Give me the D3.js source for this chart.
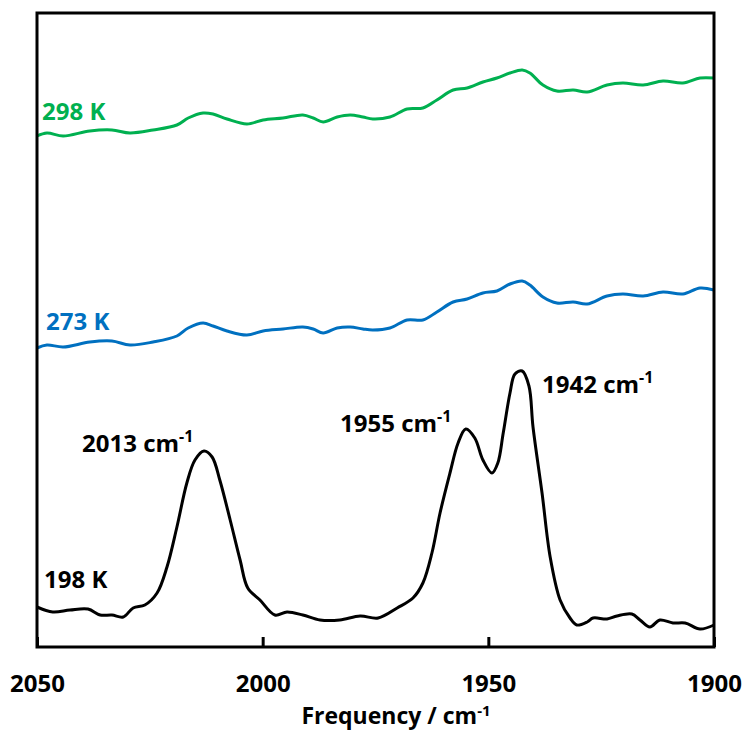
<!DOCTYPE html>
<html>
<head>
<meta charset="utf-8">
<script src="https://cdn.jsdelivr.net/npm/d3@7"></script>
<style>
  html, body { margin: 0; padding: 0; background: #fff; }
  svg { display: block; font-family: "Open Sans", "Liberation Sans", sans-serif; font-weight: 700; }
</style>
</head>
<body>
<svg id="chart" width="746" height="731"></svg>
<script>
// Wavenumber grid (cm-1) shared by the 273 K and 298 K spectra
const freqWarm = [2050, 2047.8, 2044.2, 2038.3, 2033.4, 2029.4, 2024.3, 2019.0, 2016.5, 2013.2,
  2011.0, 2007.9, 2003.5, 1999.9, 1995.5, 1991.1, 1988.8, 1986.6, 1983.5, 1980.6,
  1977.8, 1975.6, 1971.8, 1968.0, 1964.5, 1961.4, 1957.8, 1954.7, 1951.2, 1948.1,
  1945.2, 1942.5, 1940.8, 1937.9, 1934.8, 1931.2, 1928.1, 1923.7, 1920.2, 1915.7,
  1911.3, 1906.9, 1903.1, 1900];

// Offset absorbance, 298 K
const abs298 = [5.11, 5.14, 5.11, 5.16, 5.17, 5.14, 5.17, 5.22, 5.29, 5.34,
  5.33, 5.28, 5.23, 5.27, 5.29, 5.32, 5.29, 5.25, 5.30, 5.32,
  5.30, 5.28, 5.30, 5.38, 5.39, 5.47, 5.57, 5.59, 5.65, 5.69,
  5.74, 5.77, 5.74, 5.62, 5.56, 5.57, 5.55, 5.62, 5.64, 5.62,
  5.66, 5.64, 5.69, 5.69];

// Offset absorbance, 273 K
const abs273 = [2.99, 3.02, 3.00, 3.05, 3.06, 3.02, 3.05, 3.11, 3.19, 3.24,
  3.21, 3.16, 3.12, 3.16, 3.18, 3.20, 3.18, 3.14, 3.19, 3.20,
  3.18, 3.17, 3.19, 3.27, 3.27, 3.35, 3.45, 3.48, 3.54, 3.56,
  3.63, 3.66, 3.62, 3.50, 3.44, 3.45, 3.43, 3.51, 3.53, 3.51,
  3.55, 3.53, 3.59, 3.57];

// Wavenumber grid (cm-1) for the 198 K spectrum
const freqCold = [2050, 2046.5, 2042.7, 2038.7, 2036.0, 2033.4, 2030.9, 2028.7, 2026.1, 2023.4,
  2021.2, 2019.0, 2016.8, 2015.0, 2013, 2011.2, 2009.5, 2007.2, 2005.0, 2003.3,
  2000.6, 1997.3, 1994.6, 1991.1, 1987.3, 1982.9, 1978.4, 1974.4, 1970.2, 1966.7,
  1964.5, 1962.5, 1960.7, 1958.5, 1956.7, 1955, 1953.0, 1951.2, 1949.2, 1947.9,
  1946.7, 1945.2, 1944.1, 1942.5, 1941.0, 1940.1, 1938.1, 1936.3, 1934.1, 1931.9,
  1930.4, 1928.1, 1926.8, 1923.7, 1921.5, 1918.2, 1916.4, 1914.2, 1912.0, 1909.1,
  1906.4, 1903.1, 1900];

// Absorbance, 198 K
const abs198 = [0.40, 0.35, 0.37, 0.38, 0.32, 0.32, 0.30, 0.39, 0.42, 0.54,
  0.80, 1.20, 1.64, 1.87, 1.96, 1.90, 1.67, 1.27, 0.87, 0.59,
  0.47, 0.32, 0.35, 0.32, 0.27, 0.27, 0.31, 0.29, 0.39, 0.49,
  0.64, 0.94, 1.34, 1.74, 2.04, 2.18, 2.09, 1.87, 1.74, 1.84,
  2.14, 2.54, 2.73, 2.76, 2.61, 2.20, 1.54, 0.90, 0.47, 0.29,
  0.22, 0.25, 0.29, 0.28, 0.31, 0.33, 0.27, 0.20, 0.27, 0.24,
  0.24, 0.18, 0.22];

const xTicks = [2050, 2000, 1950, 1900];
const seriesNames = ["298 K", "273 K", "198 K"];
const peakLabels = [2013, 1955, 1942];

const svg = d3.select("#chart");
const plot = { left: 37, right: 714, top: 13, bottom: 647 };

const x = d3.scaleLinear().domain([2050, 1900]).range([plot.left, plot.right]);
const y = d3.scaleLinear().domain([0, 6.34]).range([plot.bottom, plot.top]);

const line = d3.line()
  .x(d => x(d[0]))
  .y(d => y(d[1]))
  .curve(d3.curveCatmullRom.alpha(0.5));

const spectra = [
  { name: seriesNames[0], freq: freqWarm, abs: abs298, color: "#00B050", lx: 42, ly: 120 },
  { name: seriesNames[1], freq: freqWarm, abs: abs273, color: "#0070C0", lx: 46, ly: 330 },
  { name: seriesNames[2], freq: freqCold, abs: abs198, color: "#000000", lx: 44, ly: 588 }
];

spectra.forEach(s => {
  svg.append("path")
    .datum(d3.zip(s.freq, s.abs))
    .attr("d", line)
    .attr("fill", "none")
    .attr("stroke", s.color)
    .attr("stroke-width", 3)
    .attr("stroke-linejoin", "round");
  svg.append("text")
    .attr("x", s.lx).attr("y", s.ly)
    .attr("font-size", 24)
    .attr("fill", s.color)
    .text(s.name);
});

// Peak assignments on the 198 K trace
const peakPos = [
  { v: peakLabels[0], x: 82, y: 452 },
  { v: peakLabels[1], x: 340, y: 432 },
  { v: peakLabels[2], x: 542, y: 393 }
];
peakPos.forEach(p => {
  const t = svg.append("text")
    .attr("x", p.x).attr("y", p.y)
    .attr("font-size", 24)
    .attr("fill", "#000");
  t.append("tspan").text(p.v + " cm");
  t.append("tspan").attr("font-size", 16).attr("dy", -10).text("-1");
});

// Frame
svg.append("rect")
  .attr("x", plot.left).attr("y", plot.top)
  .attr("width", plot.right - plot.left)
  .attr("height", plot.bottom - plot.top)
  .attr("fill", "none")
  .attr("stroke", "#000")
  .attr("stroke-width", 3);

// Bottom axis with inward ticks
const axis = d3.axisBottom(x)
  .tickValues(xTicks)
  .tickFormat(d3.format("d"))
  .tickSizeInner(-10)
  .tickSizeOuter(0);

const gx = svg.append("g")
  .attr("transform", `translate(0,${plot.bottom})`)
  .call(axis);
gx.select(".domain").remove();
gx.selectAll(".tick line").attr("stroke", "#000").attr("stroke-width", 3);
gx.selectAll(".tick text")
  .attr("y", 45).attr("dy", 0)
  .attr("font-size", 24)
  .attr("font-family", "'Open Sans', 'Liberation Sans', sans-serif")
  .attr("font-weight", 700)
  .attr("fill", "#000");

// Axis title
const title = svg.append("text")
  .attr("x", 396).attr("y", 724)
  .attr("text-anchor", "middle")
  .attr("font-size", 23)
  .attr("fill", "#000");
title.append("tspan").text("Frequency / cm");
title.append("tspan").attr("font-size", 15).attr("dy", -8).text("-1");
</script>
</body>
</html>
